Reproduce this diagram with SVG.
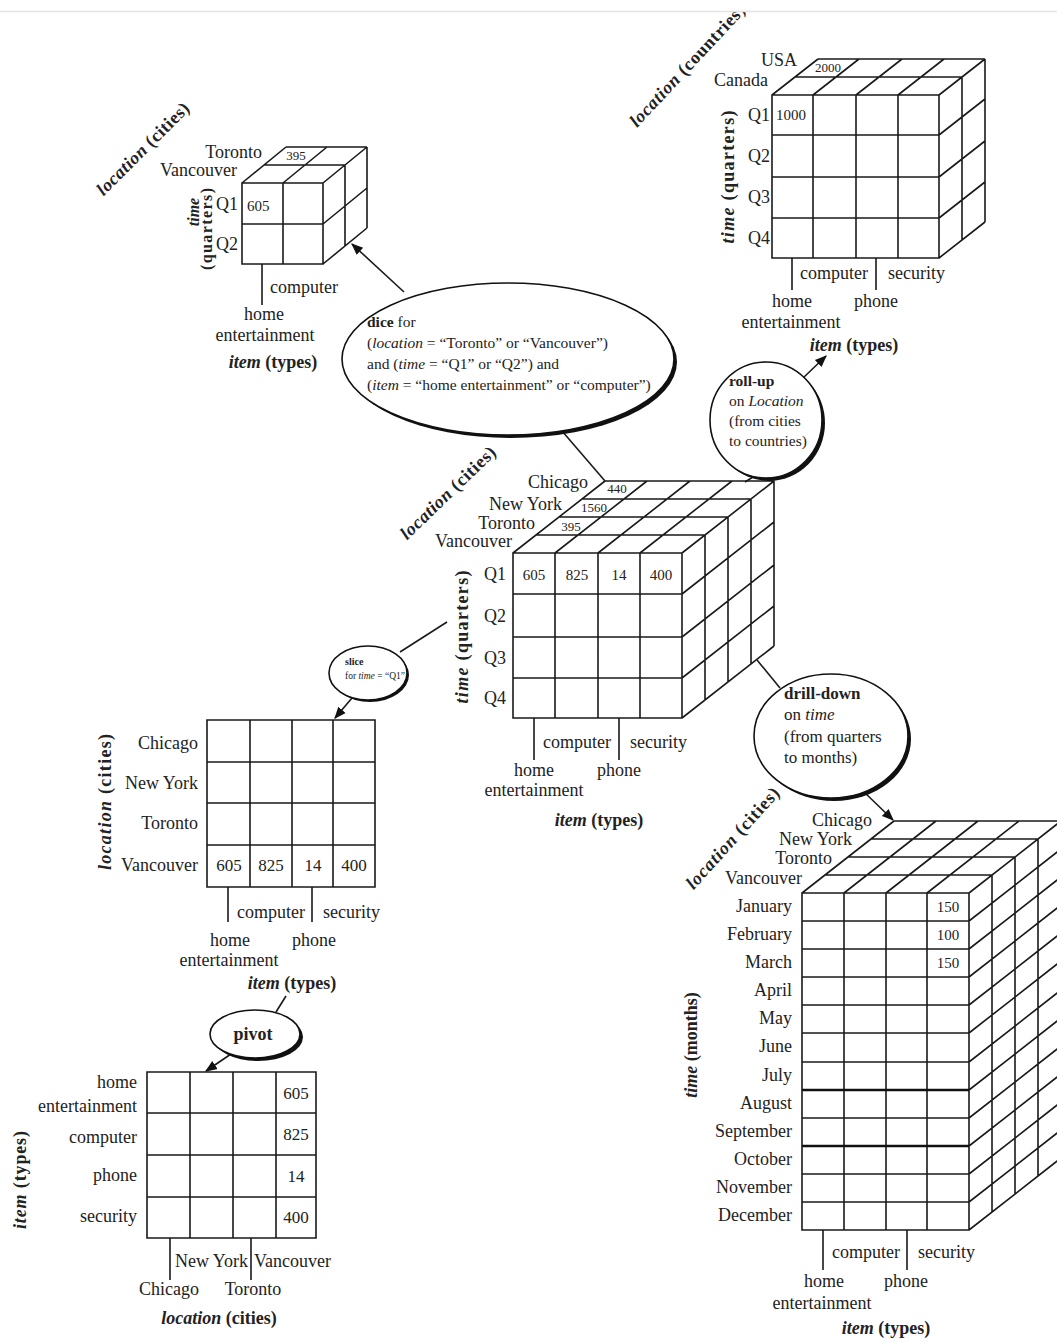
<svg xmlns="http://www.w3.org/2000/svg" width="1057" height="1342" viewBox="0 0 1057 1342">
<defs>
<style>
.ln{fill:none;stroke:#1a1a1a;stroke-width:1.6}
.tk{fill:none;stroke:#1a1a1a;stroke-width:1.6}
.t{font-family:"Liberation Serif","Times New Roman",serif;font-size:18px;fill:#222}
.v{font-size:15px}
.s{font-size:13px}
.b{font-weight:bold}
.bi{font-style:italic;font-weight:bold}
.i{font-style:italic}
.el{fill:#fff;stroke:#111;stroke-width:1.6}
.sh{fill:#111}
.m{text-anchor:middle}
.e{text-anchor:end}
.c{dominant-baseline:central}
</style>
<marker id="ah" viewBox="0 0 10 10" refX="9" refY="5" markerWidth="12" markerHeight="12" markerUnits="userSpaceOnUse" orient="auto"><path d="M0 1 L10 5 L0 9 Z" fill="#111"/></marker>
</defs>
<rect width="1057" height="1342" fill="#fff"/>

<g id="connectors" class="ln">
<line x1="404" y1="292" x2="352" y2="244" marker-end="url(#ah)"/>
<line x1="556" y1="424" x2="605" y2="481"/>
<line x1="803" y1="378" x2="826" y2="356" marker-end="url(#ah)"/>
<line x1="753" y1="477" x2="745" y2="482"/>
<line x1="447" y1="622" x2="400" y2="652"/>
<line x1="352" y1="698" x2="335" y2="718" marker-end="url(#ah)"/>
<line x1="757" y1="660" x2="780" y2="688"/>
<line x1="862" y1="790" x2="893" y2="820" marker-end="url(#ah)"/>
<line x1="286" y1="996" x2="276" y2="1012"/>
<line x1="231" y1="1054" x2="206" y2="1071" marker-end="url(#ah)"/>
</g>

<g id="dice-cube" class="t">
<path class="ln" d="M242 183 H323 V264 H242 Z M283 183 V264 M242 224 H323 M242 183 l44 -36 M283 183 l44 -36 M323 183 l44 -36 M264 165 H345 M286 147 H367 M323 224 l44 -36 M323 264 l44 -36 M345 165 V246 M367 147 V228"/>
<line class="tk" x1="262" y1="264" x2="262" y2="305"/>
<text class="e" x="262" y="158">Toronto</text>
<text class="e" x="237" y="176">Vancouver</text>
<text class="s m" x="296" y="160">395</text>
<text class="v" x="247" y="211">605</text>
<text class="e" x="238" y="210">Q1</text>
<text class="e" x="238" y="250">Q2</text>
<text class="bi m c" transform="translate(193,212) rotate(-90)" font-size="16">time</text>
<text class="b m c" transform="translate(206,229) rotate(-90)" font-size="16" textLength="82" lengthAdjust="spacing">(quarters)</text>
<text class="b m" transform="translate(147,153) rotate(-45)" textLength="123" lengthAdjust="spacing"><tspan class="bi">location</tspan> (cities)</text>
<text x="270" y="293">computer</text>
<text class="m" x="264" y="320">home</text>
<text class="m" x="265" y="341">entertainment</text>
<text class="b m" x="273" y="368"><tspan class="bi">item</tspan> (types)</text>
</g>

<g id="rollup-cube" class="t">
<path class="ln" d="M772 95 H939 V258 H772 Z M813 95 V258 M856 95 V258 M898 95 V258 M772 135 H939 M772 177 H939 M772 218 H939 M772 95 l46 -36 M813 95 l46 -36 M856 95 l46 -36 M898 95 l46 -36 M939 95 l46 -36 M795 77 H962 M818 59 H985 M939 135 l46 -36 M939 177 l46 -36 M939 218 l46 -36 M939 258 l46 -36 M962 77 V240 M985 59 V222"/>
<line class="tk" x1="792" y1="258" x2="792" y2="290"/>
<line class="tk" x1="876" y1="258" x2="876" y2="290"/>
<text class="e" x="797" y="66">USA</text>
<text class="e" x="768" y="86">Canada</text>
<text class="s m" x="828" y="72">2000</text>
<text class="v" x="776" y="120" font-size="14">1000</text>
<text class="e" x="770" y="121">Q1</text>
<text class="e" x="770" y="162">Q2</text>
<text class="e" x="770" y="203">Q3</text>
<text class="e" x="770" y="244">Q4</text>
<text class="b m c" transform="translate(728,177) rotate(-90)" textLength="133" lengthAdjust="spacing"><tspan class="bi">time</tspan> (quarters)</text>
<text class="b" transform="translate(637,128) rotate(-47)" textLength="160" lengthAdjust="spacing"><tspan class="bi">location</tspan> (countries)</text>
<text x="800" y="279">computer</text>
<text x="888" y="279">security</text>
<text class="m" x="792" y="307">home</text>
<text class="m" x="876" y="307">phone</text>
<text class="m" x="791" y="328">entertainment</text>
<text class="b m" x="854" y="351"><tspan class="bi">item</tspan> (types)</text>
</g>

<g id="center-cube" class="t">
<path class="ln" d="M513 553 H682 V718 H513 Z M555 553 V718 M598 553 V718 M640 553 V718 M513 594 H682 M513 637 H682 M513 678 H682 M513 553 l92 -72 M555 553 l92 -72 M598 553 l92 -72 M640 553 l92 -72 M682 553 l92 -72 M536 535 H705 M559 517 H728 M582 499 H751 M605 481 H774 M682 594 l92 -72 M682 637 l92 -72 M682 678 l92 -72 M682 718 l92 -72 M705 535 V700 M728 517 V682 M751 499 V664 M774 481 V646"/>
<line class="tk" x1="534" y1="718" x2="534" y2="760"/>
<line class="tk" x1="619" y1="718" x2="619" y2="760"/>
<text class="e" x="588" y="488">Chicago</text>
<text class="e" x="562" y="510">New York</text>
<text class="e" x="535" y="529">Toronto</text>
<text class="e" x="512" y="547">Vancouver</text>
<text class="s m" x="617" y="493">440</text>
<text class="s m" x="594" y="512">1560</text>
<text class="s m" x="571" y="531">395</text>
<text class="v m" x="534" y="580">605</text>
<text class="v m" x="577" y="580">825</text>
<text class="v m" x="619" y="580">14</text>
<text class="v m" x="661" y="580">400</text>
<text class="e" x="506" y="580">Q1</text>
<text class="e" x="506" y="622">Q2</text>
<text class="e" x="506" y="664">Q3</text>
<text class="e" x="506" y="704">Q4</text>
<text class="b m c" transform="translate(462,637) rotate(-90)" textLength="133" lengthAdjust="spacing"><tspan class="bi">time</tspan> (quarters)</text>
<text class="b m" transform="translate(452,497) rotate(-44)" textLength="125" lengthAdjust="spacing"><tspan class="bi">location</tspan> (cities)</text>
<text x="543" y="748">computer</text>
<text x="630" y="748">security</text>
<text class="m" x="534" y="776">home</text>
<text class="m" x="619" y="776">phone</text>
<text class="m" x="534" y="796">entertainment</text>
<text class="b m" x="599" y="826"><tspan class="bi">item</tspan> (types)</text>
</g>

<g id="slice-table" class="t">
<path class="ln" d="M207 720 H375 V887 H207 Z M250 720 V887 M292 720 V887 M333 720 V887 M207 762 H375 M207 803 H375 M207 845 H375"/>
<line class="tk" x1="228" y1="887" x2="228" y2="922"/>
<line class="tk" x1="312" y1="887" x2="312" y2="922"/>
<text class="e" x="198" y="749">Chicago</text>
<text class="e" x="198" y="789">New York</text>
<text class="e" x="198" y="829">Toronto</text>
<text class="e" x="198" y="871">Vancouver</text>
<text class="m" x="229" y="871" font-size="17">605</text>
<text class="m" x="271" y="871" font-size="17">825</text>
<text class="m" x="313" y="871" font-size="17">14</text>
<text class="m" x="354" y="871" font-size="17">400</text>
<text class="b m c" transform="translate(105,802) rotate(-90)" textLength="136" lengthAdjust="spacing"><tspan class="bi">location</tspan> (cities)</text>
<text x="237" y="918">computer</text>
<text x="323" y="918">security</text>
<text class="m" x="230" y="946">home</text>
<text class="m" x="314" y="946">phone</text>
<text class="m" x="229" y="966">entertainment</text>
<text class="b m" x="292" y="989"><tspan class="bi">item</tspan> (types)</text>
</g>

<g id="pivot-table" class="t">
<path class="ln" d="M147 1072 H316 V1238 H147 Z M190 1072 V1238 M233 1072 V1238 M276 1072 V1238 M147 1113 H316 M147 1155 H316 M147 1197 H316"/>
<line class="tk" x1="170" y1="1238" x2="170" y2="1280"/>
<line class="tk" x1="251" y1="1238" x2="251" y2="1280"/>
<text class="e" x="137" y="1088">home</text>
<text class="e" x="137" y="1112">entertainment</text>
<text class="e" x="137" y="1143">computer</text>
<text class="e" x="137" y="1181">phone</text>
<text class="e" x="137" y="1222">security</text>
<text class="m" x="296" y="1099" font-size="17">605</text>
<text class="m" x="296" y="1140" font-size="17">825</text>
<text class="m" x="296" y="1182" font-size="17">14</text>
<text class="m" x="296" y="1223" font-size="17">400</text>
<text class="b m c" transform="translate(20,1180) rotate(-90)" textLength="98" lengthAdjust="spacing"><tspan class="bi">item</tspan> (types)</text>
<text x="175" y="1267">New York</text>
<text x="254" y="1267">Vancouver</text>
<text class="m" x="169" y="1295">Chicago</text>
<text class="m" x="253" y="1295">Toronto</text>
<text class="b m" x="219" y="1324"><tspan class="bi">location</tspan> (cities)</text>
</g>

<g id="drill-cube" class="t">
<path class="ln" d="M802 893 H969 V1230 H802 Z M844 893 V1230 M886 893 V1230 M927 893 V1230 M802 921 H969 M802 949 H969 M802 977 H969 M802 1005 H969 M802 1033 H969 M802 1062 H969 M802 1118 H969 M802 1174 H969 M802 1202 H969 M802 893 l92 -72 M844 893 l92 -72 M886 893 l92 -72 M927 893 l92 -72 M969 893 l92 -72 M825 875 H992 M848 857 H1015 M871 839 H1038 M894 821 H1061 M969 921 l92 -72 M969 949 l92 -72 M969 977 l92 -72 M969 1005 l92 -72 M969 1033 l92 -72 M969 1062 l92 -72 M969 1090 l92 -72 M969 1118 l92 -72 M969 1146 l92 -72 M969 1174 l92 -72 M969 1202 l92 -72 M969 1230 l92 -72 M992 875 V1212 M1015 857 V1194 M1038 839 V1176 M1061 821 V1158"/>
<path d="M802 1090 H969 M802 1146 H969" fill="none" stroke="#111" stroke-width="2.4"/>
<line class="tk" x1="823" y1="1230" x2="823" y2="1270"/>
<line class="tk" x1="907" y1="1230" x2="907" y2="1270"/>
<text class="e" x="872" y="826">Chicago</text>
<text class="e" x="852" y="845">New York</text>
<text class="e" x="832" y="864">Toronto</text>
<text class="e" x="802" y="884">Vancouver</text>
<text class="b m" transform="translate(737,842) rotate(-48)" textLength="130" lengthAdjust="spacing"><tspan class="bi">location</tspan> (cities)</text>
<text class="e" x="792" y="912">January</text>
<text class="e" x="792" y="940">February</text>
<text class="e" x="792" y="968">March</text>
<text class="e" x="792" y="996">April</text>
<text class="e" x="792" y="1024">May</text>
<text class="e" x="792" y="1052">June</text>
<text class="e" x="792" y="1081">July</text>
<text class="e" x="792" y="1109">August</text>
<text class="e" x="792" y="1137">September</text>
<text class="e" x="792" y="1165">October</text>
<text class="e" x="792" y="1193">November</text>
<text class="e" x="792" y="1221">December</text>
<text class="v m" x="948" y="912">150</text>
<text class="v m" x="948" y="940">100</text>
<text class="v m" x="948" y="968">150</text>
<text class="b m c" transform="translate(691,1045) rotate(-90)"><tspan class="bi">time</tspan> (months)</text>
<text x="832" y="1258">computer</text>
<text x="918" y="1258">security</text>
<text class="m" x="824" y="1287">home</text>
<text class="m" x="906" y="1287">phone</text>
<text class="m" x="822" y="1309">entertainment</text>
<text class="b m" x="886" y="1334"><tspan class="bi">item</tspan> (types)</text>
</g>

<g id="dice-op" class="t">
<ellipse class="sh" cx="511" cy="362" rx="166" ry="76"/>
<ellipse class="el" cx="508" cy="359" rx="166" ry="76"/>
<text x="367" y="327" font-size="15.5"><tspan class="b">dice</tspan> for</text>
<text x="367" y="348" font-size="15.5">(<tspan class="i">location</tspan> = “Toronto” or “Vancouver”)</text>
<text x="367" y="369" font-size="15.5">and (<tspan class="i">time</tspan> = “Q1” or “Q2”) and</text>
<text x="367" y="390" font-size="15.5">(<tspan class="i">item</tspan> = “home entertainment” or “computer”)</text>
</g>

<g id="rollup-op" class="t">
<ellipse class="sh" cx="769" cy="423" rx="56" ry="58"/>
<ellipse class="el" cx="766" cy="420" rx="56" ry="58"/>
<text class="b" x="729" y="386" font-size="15.5">roll-up</text>
<text x="729" y="406" font-size="15.5">on <tspan class="i">Location</tspan></text>
<text x="729" y="426" font-size="15.5">(from cities</text>
<text x="729" y="446" font-size="15.5">to countries)</text>
</g>

<g id="slice-op" class="t">
<ellipse class="sh" cx="370" cy="675" rx="39" ry="27"/>
<ellipse class="el" cx="368" cy="673" rx="39" ry="27"/>
<text class="b" x="345" y="665" font-size="10">slice</text>
<text x="345" y="679" font-size="9.5">for <tspan class="i">time</tspan> = “Q1”</text>
</g>

<g id="drill-op" class="t">
<ellipse class="sh" cx="834" cy="739" rx="77" ry="62"/>
<ellipse class="el" cx="831" cy="736" rx="77" ry="62"/>
<text class="b" x="784" y="699" font-size="17">drill-down</text>
<text x="784" y="720" font-size="17">on <tspan class="i">time</tspan></text>
<text x="784" y="742" font-size="17">(from quarters</text>
<text x="784" y="763" font-size="17">to months)</text>
</g>

<g id="pivot-op" class="t">
<ellipse class="sh" cx="258" cy="1037" rx="45" ry="24"/>
<ellipse class="el" cx="255" cy="1034" rx="45" ry="24"/>
<text class="b m" x="253" y="1040">pivot</text>
</g>

<rect x="0" y="0" width="1057" height="11" fill="#fff"/>
<line x1="0" y1="11.5" x2="1057" y2="11.5" stroke="#e4e4e4" stroke-width="1.5"/>
</svg>
